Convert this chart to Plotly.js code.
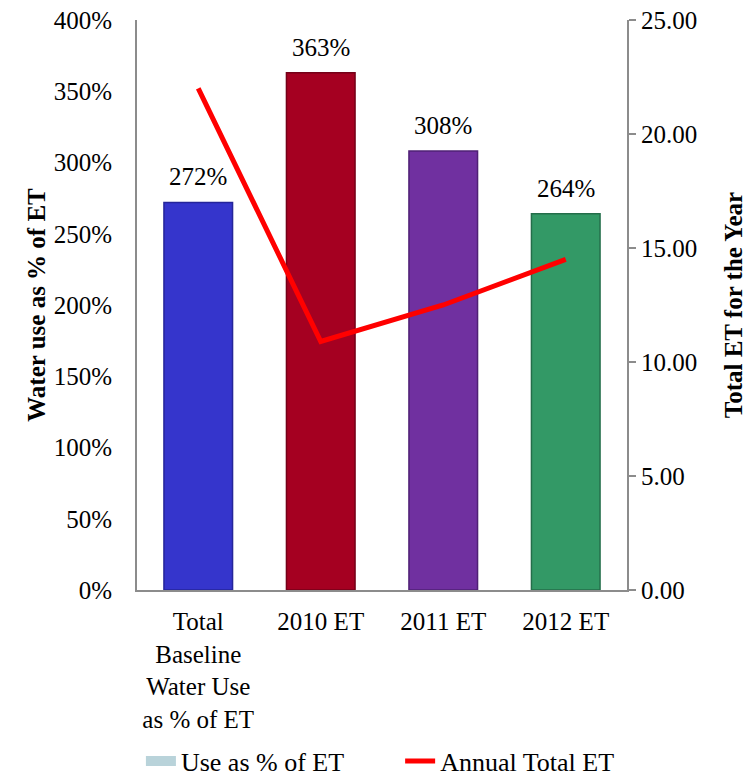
<!DOCTYPE html>
<html>
<head>
<meta charset="utf-8">
<script src="https://cdn.plot.ly/plotly-3.0.1.min.js"></script>
<style>html,body{margin:0;padding:0;background:#fff;}#chart{width:753px;height:781px;}</style>
</head>
<body>
<div id="chart"></div>
<script>
const categories = ["Total<br>Baseline<br>Water Use<br>as % of ET", "2010 ET", "2011 ET", "2012 ET"];
const usePct = [272, 363, 308, 264];
const annualET = [22.0, 10.9, 12.5, 14.5];
const barColors = ["#3535CC", "#A50021", "#7030A0", "#339966"];
const barEdges = ["#25259A", "#750018", "#4F2075", "#246E4A"];

const serif = "Liberation Serif, Times New Roman, serif";
const FS = 25;

const traces = [
  {
    type: "bar", x: categories, y: usePct, name: "Use as % of ET",
    marker: {color: barColors, line: {color: barEdges, width: 1.5}},
    width: 0.56, showlegend: false, hoverinfo: "x+y"
  },
  {
    type: "scatter", mode: "lines", x: [categories[0]], y: [null], name: "Use as % of ET",
    line: {color: "#B9D3DA", width: 13}, showlegend: true, legend: "legend"
  },
  {
    type: "scatter", mode: "lines", x: categories, y: annualET, yaxis: "y2",
    name: "Annual Total ET", line: {color: "#FF0000", width: 5}, legend: "legend2"
  }
];

const annotations = usePct.map((v, i) => ({
  x: categories[i], y: v, xref: "x", yref: "y", text: v + "%",
  showarrow: false, yanchor: "bottom", yshift: 10,
  font: {family: serif, size: FS, color: "#000"}
}));

const legendBase = {orientation: "h", y: -0.3, yanchor: "middle", xanchor: "left",
  font: {family: serif, size: 26, color: "#000"}, bgcolor: "rgba(0,0,0,0)"};

const layout = {
  width: 753, height: 781,
  margin: {l: 137, r: 126, t: 20, b: 191, autoexpand: false},
  paper_bgcolor: "#fff", plot_bgcolor: "#fff",
  font: {family: serif, size: FS, color: "#000"},
  showlegend: true,
  legend: Object.assign({}, legendBase, {x: 0.008}),
  legend2: Object.assign({}, legendBase, {x: 0.537}),
  xaxis: {
    type: "category", showline: true, linecolor: "#8C8C8C", linewidth: 2,
    ticks: "", tickfont: {family: serif, size: FS}, showgrid: false, zeroline: false,
    ticklabelstandoff: 8
  },
  yaxis: {
    range: [0, 400], dtick: 50, ticksuffix: "%", showgrid: false, zeroline: false,
    showline: true, linecolor: "#8C8C8C", linewidth: 2, ticks: "",
    tickfont: {family: serif, size: FS}, ticklabelstandoff: 18,
    title: {text: "Water use as % of ET", font: {family: serif, size: FS, weight: "bold"}, standoff: 1}
  },
  yaxis2: {
    overlaying: "y", side: "right", range: [0, 25], dtick: 5, tickformat: ".2f",
    showgrid: false, zeroline: false, showline: true, linecolor: "#8C8C8C", linewidth: 2,
    ticks: "outside", ticklen: 7, tickcolor: "#8C8C8C", tickwidth: 2,
    tickfont: {family: serif, size: FS}, ticklabelstandoff: 0,
    title: {text: "Total ET for the Year", font: {family: serif, size: FS, weight: "bold"}, standoff: 28}
  },
  annotations: annotations
};

Plotly.newPlot("chart", traces, layout, {displayModeBar: false, staticPlot: true});
</script>
</body>
</html>
